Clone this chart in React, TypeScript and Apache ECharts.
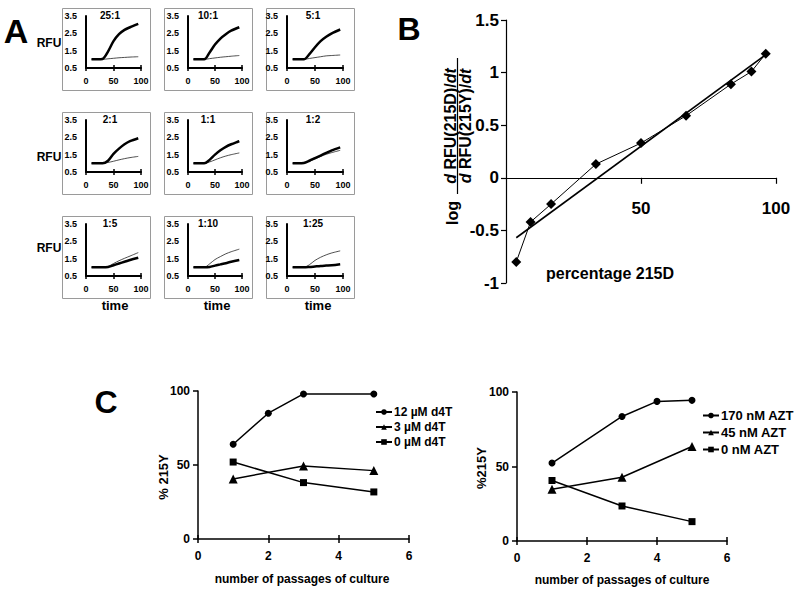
import React, { useEffect, useRef } from "react";
import * as echarts from "echarts";

// ---------- DATA ----------
const ratioLabels = ["25:1", "10:1", "5:1", "2:1", "1:1", "1:2", "1:5", "1:10", "1:25"];
const timePoints = [10, 20, 30, 40, 50, 60, 70, 80, 95];
const thickCurves = [
  [1.0, 1.0, 1.02, 1.45, 2.05, 2.45, 2.7, 2.85, 3.05],
  [1.0, 1.0, 1.0, 1.4, 1.85, 2.2, 2.45, 2.65, 2.85],
  [1.0, 1.0, 1.0, 1.3, 1.7, 2.05, 2.3, 2.5, 2.72],
  [1.0, 1.0, 1.0, 1.15, 1.55, 1.85, 2.1, 2.28, 2.45],
  [1.0, 1.0, 1.0, 1.2, 1.5, 1.75, 1.95, 2.1, 2.28],
  [1.0, 1.0, 1.02, 1.15, 1.3, 1.45, 1.6, 1.75, 1.92],
  [1.0, 1.0, 1.0, 1.02, 1.12, 1.22, 1.32, 1.42, 1.55],
  [1.0, 1.0, 1.0, 1.02, 1.1, 1.17, 1.24, 1.32, 1.42],
  [1.0, 1.0, 1.0, 1.02, 1.05, 1.08, 1.1, 1.12, 1.18],
];
const thinCurves = [
  [1.0, 1.0, 1.0, 1.03, 1.06, 1.09, 1.11, 1.13, 1.15],
  [1.0, 1.0, 1.0, 1.04, 1.08, 1.12, 1.15, 1.18, 1.22],
  [1.0, 1.0, 1.0, 1.05, 1.1, 1.15, 1.2, 1.22, 1.25],
  [1.0, 1.0, 1.0, 1.05, 1.12, 1.2, 1.27, 1.33, 1.4],
  [1.0, 1.0, 1.0, 1.08, 1.2, 1.32, 1.42, 1.5, 1.6],
  [1.0, 1.0, 1.02, 1.12, 1.25, 1.4, 1.52, 1.62, 1.75],
  [1.0, 1.0, 1.0, 1.05, 1.22, 1.38, 1.52, 1.65, 1.85],
  [1.0, 1.0, 1.0, 1.2, 1.45, 1.62, 1.78, 1.9, 2.05],
  [1.0, 1.0, 1.0, 1.15, 1.4, 1.58, 1.72, 1.83, 1.95],
];

const percentage215D = [3.8, 9.1, 16.7, 33.3, 50, 66.7, 83.3, 90.9, 96.2];
const logRatio = [-0.8, -0.42, -0.25, 0.13, 0.33, 0.59, 0.89, 1.01, 1.18];
const regressionX = [3.8, 96.2];
const regressionY = [-0.57, 1.17];

const d4tNames = ["12 µM d4T", "3 µM d4T", "0 µM d4T"];
const d4tPassages = [
  [1, 2, 3, 5],
  [1, 3, 5],
  [1, 3, 5],
];
const d4tValues = [
  [64, 85, 98, 98],
  [40.6, 49.3, 46.2],
  [52, 38.1, 31.8],
];
const aztNames = ["170 nM AZT", "45 nM AZT", "0 nM AZT"];
const aztPassages = [
  [1, 3, 4, 5],
  [1, 3, 5],
  [1, 3, 5],
];
const aztValues = [
  [52.3, 83.6, 93.7, 94.4],
  [34.8, 42.8, 63.4],
  [40.6, 23.5, 13],
];
const markerSymbols = ["circle", "triangle", "rect"];

// ---------- STYLE ----------
const FONT = "'Liberation Sans', Arial, Helvetica, sans-serif";
const INK = "#000";

function buildOption() {
  const grids: any[] = [];
  const xAxes: any[] = [];
  const yAxes: any[] = [];
  const series: any[] = [];
  const graphics: any[] = [];

  const txt = (x: number, y: number, text: string, size: number, extra: any = {}) => ({
    type: "text",
    x,
    y,
    style: {
      text,
      fill: INK,
      font: `bold ${size}px ${FONT}`,
      align: "center",
      verticalAlign: "middle",
      ...extra,
    },
  });

  // ---------- Panel A ----------
  const colLeft = [86, 188, 287];
  const colWidth = [55, 54, 56];
  const rowTop = [16, 120, 224];
  const boxLeft = [62, 164, 266];
  const boxTop = [8, 112, 216];
  const titleX = [110, 208, 313];

  ratioLabels.forEach((label, i) => {
    const r = Math.floor(i / 3);
    const c = i % 3;
    graphics.push({
      type: "rect",
      shape: { x: boxLeft[c] + 0.5, y: boxTop[r] + 0.5, width: 88, height: 82 },
      style: { fill: "none", stroke: "#9a9a9a", lineWidth: 1 },
    });
    grids.push({ left: colLeft[c], top: rowTop[r], width: colWidth[c], height: 52 });
    const gi = grids.length - 1;
    xAxes.push({
      gridIndex: gi,
      type: "value",
      position: "bottom",
      min: 0,
      max: 100,
      interval: 50,
      axisLine: { onZero: false, lineStyle: { color: INK, width: 2 } },
      axisTick: { show: true, length: 3, lineStyle: { color: INK, width: 1.5 } },
      axisLabel: { fontSize: 9, fontWeight: "bold", color: INK, margin: 8, fontFamily: FONT },
      splitLine: { show: false },
    });
    const xi = xAxes.length - 1;
    xAxes.push({
      gridIndex: gi,
      type: "value",
      position: "bottom",
      min: 0,
      max: 100,
      interval: 50,
      axisLine: { show: false, onZero: false },
      axisTick: { show: true, inside: true, length: 3, lineStyle: { color: INK, width: 1.5 } },
      axisLabel: { show: false },
      splitLine: { show: false },
    });
    yAxes.push({
      gridIndex: gi,
      type: "value",
      min: 0.5,
      max: 3.5,
      interval: 1,
      axisLine: { show: true, onZero: false, lineStyle: { color: INK, width: 2 } },
      axisTick: { show: false },
      axisLabel: {
        fontSize: 9,
        fontWeight: "bold",
        color: INK,
        margin: 9,
        fontFamily: FONT,
        formatter: (v: number) => v.toFixed(1),
      },
      splitLine: { show: false },
    });
    const yi = yAxes.length - 1;
    series.push({
      type: "line",
      xAxisIndex: xi,
      yAxisIndex: yi,
      data: timePoints.map((t, k) => [t, thinCurves[i][k]]),
      showSymbol: false,
      smooth: 0.3,
      lineStyle: { color: "#222", width: 0.8 },
    });
    series.push({
      type: "line",
      xAxisIndex: xi,
      yAxisIndex: yi,
      data: timePoints.map((t, k) => [t, thickCurves[i][k]]),
      showSymbol: false,
      smooth: 0.3,
      lineStyle: { color: INK, width: 2.5 },
    });
    graphics.push(txt(titleX[c], rowTop[r] - 1, label, 10));
  });

  graphics.push(txt(16, 31, "A", 34));
  graphics.push(txt(49, 43, "RFU", 12));
  graphics.push(txt(49, 157, "RFU", 12));
  graphics.push(txt(49, 248, "RFU", 12));
  graphics.push(txt(115, 305, "time", 13));
  graphics.push(txt(217, 305, "time", 13));
  graphics.push(txt(318, 305, "time", 13));

  // ---------- Panel B ----------
  // data grid (y: -1 .. 1.5)
  grids.push({ left: 506, top: 20, width: 270, height: 263 });
  const gB = grids.length - 1;
  xAxes.push({
    gridIndex: gB,
    type: "value",
    min: 0,
    max: 100,
    interval: 50,
    show: false,
    axisLine: { onZero: false },
  });
  const xB = xAxes.length - 1;
  yAxes.push({
    gridIndex: gB,
    type: "value",
    min: -1,
    max: 1.5,
    interval: 0.5,
    axisLine: { show: true, onZero: false, lineStyle: { color: INK, width: 1.2 } },
    axisTick: { show: true, length: 5, lineStyle: { color: INK, width: 1.2 } },
    axisLabel: { fontSize: 17, fontWeight: "bold", color: INK, margin: 7, fontFamily: FONT },
    splitLine: { show: false },
  });
  const yB = yAxes.length - 1;
  // axis grid whose bottom edge sits at y = 0 of the data grid
  const zeroY = 20 + 263 * (1.5 / 2.5);
  grids.push({ left: 506, top: 20, width: 270, height: zeroY - 20 });
  const gB0 = grids.length - 1;
  xAxes.push({
    gridIndex: gB0,
    type: "value",
    position: "bottom",
    min: 0,
    max: 100,
    interval: 50,
    axisLine: { onZero: false, lineStyle: { color: INK, width: 1.2 } },
    axisTick: { show: true, length: 6, lineStyle: { color: INK, width: 1.2 } },
    axisLabel: {
      showMinLabel: false,
      fontSize: 17,
      fontWeight: "bold",
      color: INK,
      margin: 22,
      fontFamily: FONT,
    },
    splitLine: { show: false },
  });
  yAxes.push({ gridIndex: gB0, type: "value", min: 0, max: 1, show: false });

  series.push({
    type: "line",
    xAxisIndex: xB,
    yAxisIndex: yB,
    data: regressionX.map((x, k) => [x, regressionY[k]]),
    showSymbol: false,
    lineStyle: { color: INK, width: 1.6 },
  });
  series.push({
    type: "line",
    xAxisIndex: xB,
    yAxisIndex: yB,
    data: percentage215D.map((x, k) => [x, logRatio[k]]),
    symbol: "diamond",
    symbolSize: 10,
    itemStyle: { color: INK },
    lineStyle: { color: INK, width: 1 },
  });
  graphics.push(txt(409, 29, "B", 32));
  graphics.push(txt(610, 273, "percentage 215D", 16));
  const rot = Math.PI / 2;
  graphics.push({ ...txt(452, 213, "log", 16), rotation: rot });
  const frac = (x: number, text: string) => ({
    type: "text",
    x,
    y: 126,
    rotation: rot,
    style: {
      text,
      fill: INK,
      font: `bold 16px ${FONT}`,
      align: "center",
      verticalAlign: "middle",
      rich: { i: { fontStyle: "italic", fontWeight: "bold", fontSize: 16, fontFamily: FONT, fill: INK } },
    },
  });
  graphics.push(frac(450, "{i|d} RFU(215D)/{i|dt}"));
  graphics.push(frac(465, "{i|d} RFU(215Y)/{i|dt}"));
  graphics.push({
    type: "line",
    shape: { x1: 457.5, y1: 58, x2: 457.5, y2: 194 },
    style: { stroke: INK, lineWidth: 1.2 },
  });

  // ---------- Panel C ----------
  const cPanels = [
    { left: 198, top: 391, width: 211, height: 148, names: d4tNames, xs: d4tPassages, ys: d4tValues },
    { left: 517, top: 392, width: 210, height: 149, names: aztNames, xs: aztPassages, ys: aztValues },
  ];
  cPanels.forEach((p) => {
    grids.push({ left: p.left, top: p.top, width: p.width, height: p.height });
    const g = grids.length - 1;
    xAxes.push({
      gridIndex: g,
      type: "value",
      position: "bottom",
      min: 0,
      max: 6,
      interval: 2,
      axisLine: { onZero: false, lineStyle: { color: INK, width: 1.5 } },
      axisTick: { show: true, length: 4, lineStyle: { color: INK, width: 1.5 } },
      axisLabel: { fontSize: 12, fontWeight: "bold", color: INK, margin: 11, fontFamily: FONT },
      splitLine: { show: false },
    });
    const xi = xAxes.length - 1;
    xAxes.push({
      gridIndex: g,
      type: "value",
      position: "bottom",
      min: 0,
      max: 6,
      interval: 2,
      axisLine: { show: false, onZero: false },
      axisTick: { show: true, inside: true, length: 4, lineStyle: { color: INK, width: 1.5 } },
      axisLabel: { show: false },
      splitLine: { show: false },
    });
    yAxes.push({
      gridIndex: g,
      type: "value",
      min: 0,
      max: 100,
      interval: 50,
      axisLine: { show: true, onZero: false, lineStyle: { color: INK, width: 1.5 } },
      axisTick: { show: true, length: 5, lineStyle: { color: INK, width: 1.5 } },
      axisLabel: { fontSize: 12, fontWeight: "bold", color: INK, margin: 8, fontFamily: FONT },
      splitLine: { show: false },
    });
    const yi = yAxes.length - 1;
    p.names.forEach((name, k) => {
      series.push({
        type: "line",
        name,
        xAxisIndex: xi,
        yAxisIndex: yi,
        data: p.xs[k].map((x, j) => [x, p.ys[k][j]]),
        symbol: markerSymbols[k],
        symbolSize: k === 1 ? 9 : 7,
        itemStyle: { color: INK },
        lineStyle: { color: INK, width: 1.5 },
      });
    });
  });
  graphics.push(txt(106, 402, "C", 32));
  graphics.push({ ...txt(163, 477, "% 215Y", 13), rotation: rot });
  graphics.push({ ...txt(481, 468, "%215Y", 13), rotation: rot });
  graphics.push(txt(302, 579, "number of passages of culture", 12));
  graphics.push(txt(622, 580, "number of passages of culture", 12));

  const legendBase = {
    orient: "vertical",
    itemWidth: 16,
    itemHeight: 7,
    padding: 0,
    selectedMode: false,
    textStyle: { fontWeight: "bold", color: INK, fontFamily: FONT, padding: [0, 0, 0, -3] },
  };

  return {
    animation: false,
    backgroundColor: "#fff",
    grid: grids,
    xAxis: xAxes,
    yAxis: yAxes,
    series,
    legend: [
      { ...legendBase, left: 375, top: 406, itemGap: 3, data: d4tNames, textStyle: { ...legendBase.textStyle, fontSize: 12 } },
      { ...legendBase, left: 702, top: 409, itemGap: 4, data: aztNames, textStyle: { ...legendBase.textStyle, fontSize: 13 } },
    ],
    graphic: graphics,
  };
}

export default function App() {
  const ref = useRef<HTMLDivElement>(null);
  useEffect(() => {
    document.body.style.margin = "0";
    if (!ref.current) return;
    const chart = echarts.init(ref.current, undefined, { renderer: "svg" });
    chart.setOption(buildOption() as any);
    return () => chart.dispose();
  }, []);
  return <div ref={ref} style={{ width: 795, height: 590, background: "#fff" }} />;
}
